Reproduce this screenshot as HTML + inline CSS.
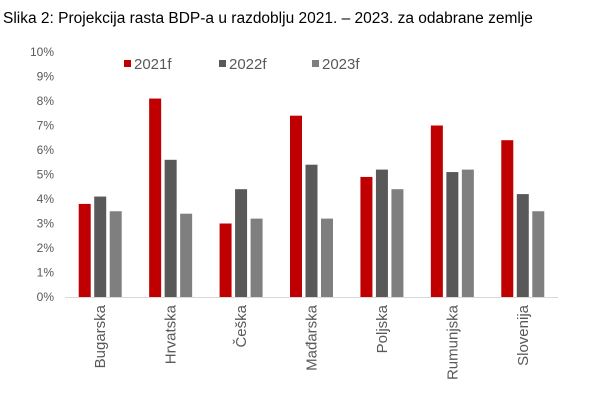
<!DOCTYPE html>
<html><head><meta charset="utf-8"><style>
body{margin:0;background:#fff;width:600px;height:402px;overflow:hidden}
svg{display:block}
text{font-family:"Liberation Sans",sans-serif}
</style></head><body>
<svg width="600" height="402">
<text x="3" y="23" font-size="15.5" fill="#000" style="font-family:'Liberation Sans',sans-serif">Slika 2: Projekcija rasta BDP-a u razdoblju 2021. – 2023. za odabrane zemlje</text>
<g id="yaxis"></g>
<g id="bars"></g>
<g id="xaxis"></g>
<g id="legend"></g>
</svg>
<script>
const categories=["Bugarska","Hrvatska","Češka","Mađarska","Poljska","Rumunjska","Slovenija"];
const s2021=[3.8,8.1,3.0,7.4,4.9,7.0,6.4];
const s2022=[4.1,5.6,4.4,5.4,5.2,5.1,4.2];
const s2023=[3.5,3.4,3.2,3.2,4.4,5.2,3.5];
const seriesNames=["2021f","2022f","2023f"];
const yTicks=[0,1,2,3,4,5,6,7,8,9,10];
const colors=["#c00000","#595959","#7f7f7f"];
const NS="http://www.w3.org/2000/svg";
const x0=65,x1=558,y0=297,yTop=52;
const y=v=>y0-(v/10)*(y0-yTop);
const bw=(x1-x0)/categories.length;
const xc=i=>x0+bw*(i+0.5);
function mk(t,a,p){const e=document.createElementNS(NS,t);for(const k in a)e.setAttribute(k,a[k]);p.appendChild(e);return e;}
const ya=document.getElementById('yaxis');
yTicks.forEach(t=>{const e=mk('text',{x:54,y:y(t)+4,'font-size':12,fill:'#595959','text-anchor':'end'},ya);


e.textContent=t+'%';});
const bars=document.getElementById('bars');
const all=[s2021,s2022,s2023];
all.forEach((s,si)=>{s.forEach((v,i)=>{const cx=xc(i)+(si-1)*15.5;
const r=mk('rect',{x:cx-6,y:y(v),width:12,height:y0-y(v),fill:colors[si]},bars);

});});
const xa=document.getElementById('xaxis');
const ln=mk('line',{x1:x0,x2:x1,y1:y0+0.5,y2:y0+0.5,stroke:'#d9d9d9','stroke-width':1},xa);


categories.forEach((c,i)=>{const e=mk('text',{x:0,y:0,'font-size':15,fill:'#595959','text-anchor':'end',transform:`translate(${xc(i)+5},${y0+8}) rotate(-90)`},xa);


e.textContent=c;});
const lg=document.getElementById('legend');
const lx=[124,219,312];
seriesNames.forEach((n,i)=>{const g=mk('g',{},lg);


mk('rect',{x:lx[i],y:60,width:7,height:7,fill:colors[i]},g);
const t=mk('text',{x:lx[i]+10,y:69,'font-size':15,fill:'#595959'},g);t.textContent=n;});
</script>
</body></html>
